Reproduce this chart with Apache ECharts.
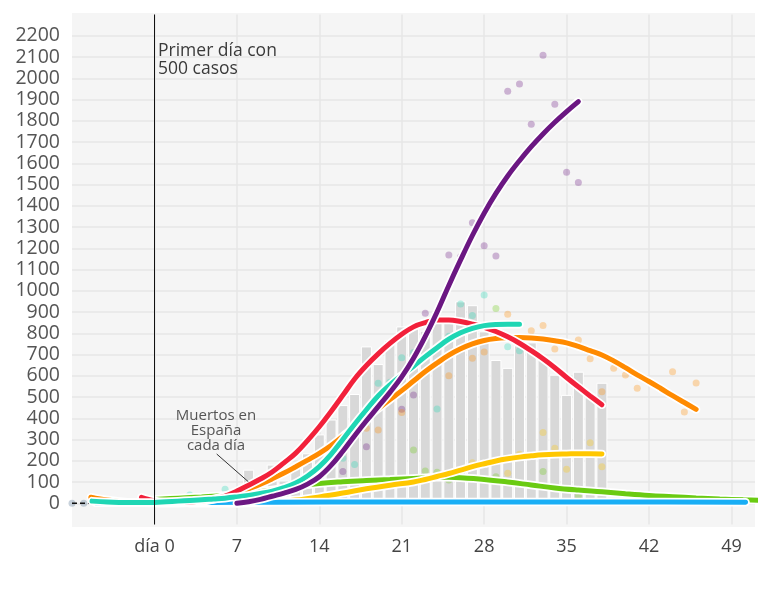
<!DOCTYPE html>
<html>
<head>
<meta charset="utf-8">
<script src="https://cdn.jsdelivr.net/npm/echarts@6/dist/echarts.min.js"></script>
<style>
  html, body { margin: 0; padding: 0; background: #fff; }
  #chart { width: 768px; height: 614px; }
</style>
</head>
<body>
<div id="chart"></div>
<script>
// días desde el primer día con 500 casos
const spainDays = [1, 2, 3, 4, 5, 6, 7, 8, 9, 10, 11, 12, 13, 14, 15, 16, 17, 18, 19, 20,
  21, 22, 23, 24, 25, 26, 27, 28, 29, 30, 31, 32, 33, 34, 35, 36, 37, 38];
const spainDeaths = [3, 5, 8, 10, 17, 26, 36, 158, 21, 182, 107, 169, 235, 324, 394, 462, 514, 738, 655, 769,
  832, 838, 812, 849, 864, 950, 932, 809, 674, 637, 743, 757, 683, 605, 510, 619, 517, 567];

// curvas suavizadas por país [día, muertes]
const purpleLine = [[7, 0], [8, 7], [9, 18], [10, 33], [11, 48], [12, 65], [13, 90], [14, 125], [15, 178],
  [16, 245], [17, 318], [18, 388], [19, 455], [20, 522], [21, 595], [22, 682], [23, 785], [24, 900],
  [25, 1025], [26, 1145], [27, 1260], [28, 1365], [29, 1458], [30, 1540], [31, 1612], [32, 1678],
  [33, 1738], [34, 1793], [35, 1843], [36, 1890]];
const redLine = [[-1.1, 28], [-0.5, 18], [0, 11], [1, 5], [2, 3], [3, 5], [4, 10], [5, 19], [6, 34], [7, 57],
  [8, 85], [9, 114], [10, 147], [11, 190], [12, 236], [13, 295], [14, 360], [15, 432], [16, 508], [17, 585],
  [18, 648], [19, 703], [20, 752], [21, 795], [22, 830], [23, 850], [24, 862], [25, 862], [26, 855],
  [27, 843], [28, 828], [29, 808], [30, 783], [31, 753], [32, 718], [33, 680], [34, 638], [35, 592],
  [36, 548], [37, 505], [38, 463]];
const tealLine = [[-5.3, 10], [-4, 6], [-3, 4], [-2, 3], [-1, 3], [0, 4], [1, 7], [2, 10], [3, 13], [4, 16],
  [5, 20], [6, 24], [7, 30], [8, 37], [9, 46], [10, 57], [11, 73], [12, 95], [13, 128], [14, 172],
  [15, 230], [16, 300], [17, 372], [18, 440], [19, 505], [20, 557], [21, 602], [22, 645], [23, 690],
  [24, 732], [25, 772], [26, 802], [27, 823], [28, 836], [29, 841], [30, 842], [31, 842]];
const orangeLine = [[-5.4, 28], [-5, 24], [-4, 15], [-3, 8], [-2, 4], [-1, 2], [0, 1], [1, 0], [2, 0], [3, 2],
  [4, 8], [5, 18], [6, 32], [7, 47], [8, 68], [9, 90], [10, 115], [11, 142], [12, 172], [13, 203],
  [14, 235], [15, 272], [16, 315], [17, 358], [18, 403], [19, 445], [20, 488], [21, 530], [22, 575],
  [23, 620], [24, 660], [25, 697], [26, 727], [27, 750], [28, 766], [29, 775], [30, 779], [31, 780],
  [32, 778], [33, 773], [34, 765], [35, 755], [36, 738], [37, 718], [38, 698], [39, 670], [40, 638],
  [41, 604], [42, 573], [43, 540], [44, 506], [45, 474], [46, 442]];
const yellowLine = [[3, 0], [6, 0], [8, 1], [10, 6], [12, 15], [14, 30], [16, 48], [18, 68], [20, 85],
  [22, 100], [23, 112], [24, 126], [25, 140], [26, 156], [27, 172], [28, 186], [29, 199], [30, 209],
  [31, 217], [32, 223], [33, 228], [34, 231], [35, 232], [36, 233], [37, 233], [38, 232]];
const greenLine = [[0, 18], [2, 24], [4, 30], [6, 37], [8, 48], [10, 62], [12, 80], [14, 93], [16, 101],
  [18, 107], [20, 112], [22, 117], [24, 122], [25, 122], [26, 120], [28, 112], [30, 100], [32, 86],
  [34, 72], [36, 62], [38, 54], [40, 45], [42, 37], [44, 31], [46, 25], [48, 20], [50, 16], [52, 13]];
const blueLine = [[-5, 2], [0, 3], [5, 4], [10, 5], [20, 6], [30, 6], [40, 6], [50.2, 5]];
const blackLine = [[-7, 0], [-5.4, 0]];

// datos diarios (puntos)
const purpleDots = [[16, 149], [18, 266], [21, 442], [22, 510], [23, 894], [25, 1168], [26, 1160],
  [27, 1320], [28, 1212], [29, 1164], [30, 1939], [31, 1973], [32, 1784], [33, 2108], [34, 1878],
  [35, 1558], [36, 1509]];
const tealDots = [[3, 39], [6, 66], [16, 212], [17, 182], [19, 565], [20, 569], [21, 685], [22, 709],
  [24, 443], [25, 786], [26, 938], [27, 883], [28, 980], [30, 737], [31, 718]];
const orangeDots = [[12, 172], [13, 196], [17, 368], [18, 353], [19, 345], [21, 427], [25, 600], [27, 682],
  [28, 712], [30, 889], [32, 812], [33, 836], [34, 726], [36, 768], [37, 680], [38, 525], [39, 635],
  [40, 604], [41, 541], [44, 619], [45, 430], [46, 566]];
const yellowDots = [[27, 191], [30, 141], [31, 231], [33, 333], [34, 259], [35, 160], [37, 285], [38, 172]];
const greenDots = [[22, 251], [23, 152], [24, 146], [25, 110], [29, 917], [29, 125], [33, 149], [36, 34]];
const greyDots = [[-7, 0], [-6, 0]];

const font = 'Open Sans';

function curve(data, color) {
  return [
    {
      type: 'line', data: data, smooth: 0.4, showSymbol: false, silent: true, clip: true,
      lineStyle: { color: '#ffffff', width: 8.5, cap: 'round' }
    },
    {
      type: 'line', data: data, smooth: 0.4, showSymbol: false, clip: true,
      lineStyle: { color: color, width: 5, cap: 'round' }
    }
  ];
}

function dots(data, color) {
  return {
    type: 'scatter', data: data, symbolSize: 7,
    itemStyle: { color: color, opacity: 0.3 }
  };
}

const myChart = echarts.init(document.getElementById('chart'));
myChart.setOption({
  animation: false,
  grid: { left: 72, right: 13, top: 14.5, bottom: 89.5 },
  graphic: [
    {
      type: 'rect', z: -10, silent: true,
      shape: { x: 72, y: 13, width: 683, height: 514 },
      style: { fill: '#f5f5f5' }
    },
    {
      type: 'text', x: 158, y: 42, z: 10,
      style: { text: 'Primer día con\n500 casos', fontFamily: font, fontSize: 17.5, lineHeight: 18, fill: '#3a3a3a' }
    },
    {
      type: 'text', x: 216, y: 408, z: 10,
      style: {
        text: 'Muertos en\nEspaña\ncada día', textAlign: 'center', fontFamily: font,
        fontSize: 15, lineHeight: 15, fill: '#555'
      }
    },
    {
      type: 'line', z: 10, silent: true,
      shape: { x1: 216.7, y1: 454, x2: 248.3, y2: 481.7 },
      style: { stroke: '#333', lineWidth: 1 }
    }
  ],
  xAxis: {
    type: 'value', min: -7, max: 51, interval: 7,
    axisLine: { show: false },
    axisTick: { show: false },
    axisLabel: {
      margin: 13, fontFamily: font, fontSize: 18, color: '#444',
      formatter: function (v) { return v === 0 ? 'día 0' : ((v < 0 || v > 49) ? '' : String(v)); }
    },
    splitLine: { show: true, showMinLine: false, showMaxLine: false, lineStyle: { color: '#e6e6e6', width: 1.5 } }
  },
  yAxis: {
    type: 'value', min: -100, max: 2300, interval: 100,
    axisLine: { show: false },
    axisTick: { show: false },
    axisLabel: {
      margin: 12, fontFamily: font, fontSize: 19.5, color: '#555',
      formatter: function (v) { return (v < 0 || v > 2200) ? '' : String(v); }
    },
    splitLine: { show: true, showMinLine: false, showMaxLine: false, lineStyle: { color: '#e6e6e6', width: 1.5 } }
  },
  series: [
    {
      type: 'bar', barWidth: 11,
      data: spainDays.map((d, i) => [d, spainDeaths[i]]),
      itemStyle: { color: '#d8d8d8', borderColor: '#ffffff', borderWidth: 1 },
      markLine: {
        symbol: 'none', silent: true, label: { show: false },
        lineStyle: { color: '#111', width: 1, type: 'solid' },
        data: [{ xAxis: 0 }]
      }
    },
    dots(purpleDots, '#6b1782'),
    dots(tealDots, '#1fd6b4'),
    dots(orangeDots, '#ff8a00'),
    dots(yellowDots, '#ffc700'),
    dots(greenDots, '#6acb12'),
    dots(greyDots, '#4a6a8a'),
    {
      type: 'line', data: blackLine, showSymbol: false,
      lineStyle: { color: '#111', width: 1.5, type: [5, 3] }
    },
    ...curve(greenLine, '#6acb12'),
    ...curve(yellowLine, '#ffc700'),
    ...curve(blueLine, '#19aef5'),
    ...curve(orangeLine, '#ff8a00'),
    ...curve(redLine, '#f2213b'),
    ...curve(tealLine, '#1fd6b4'),
    ...curve(purpleLine, '#6b1782')
  ]
});
</script>
</body>
</html>
